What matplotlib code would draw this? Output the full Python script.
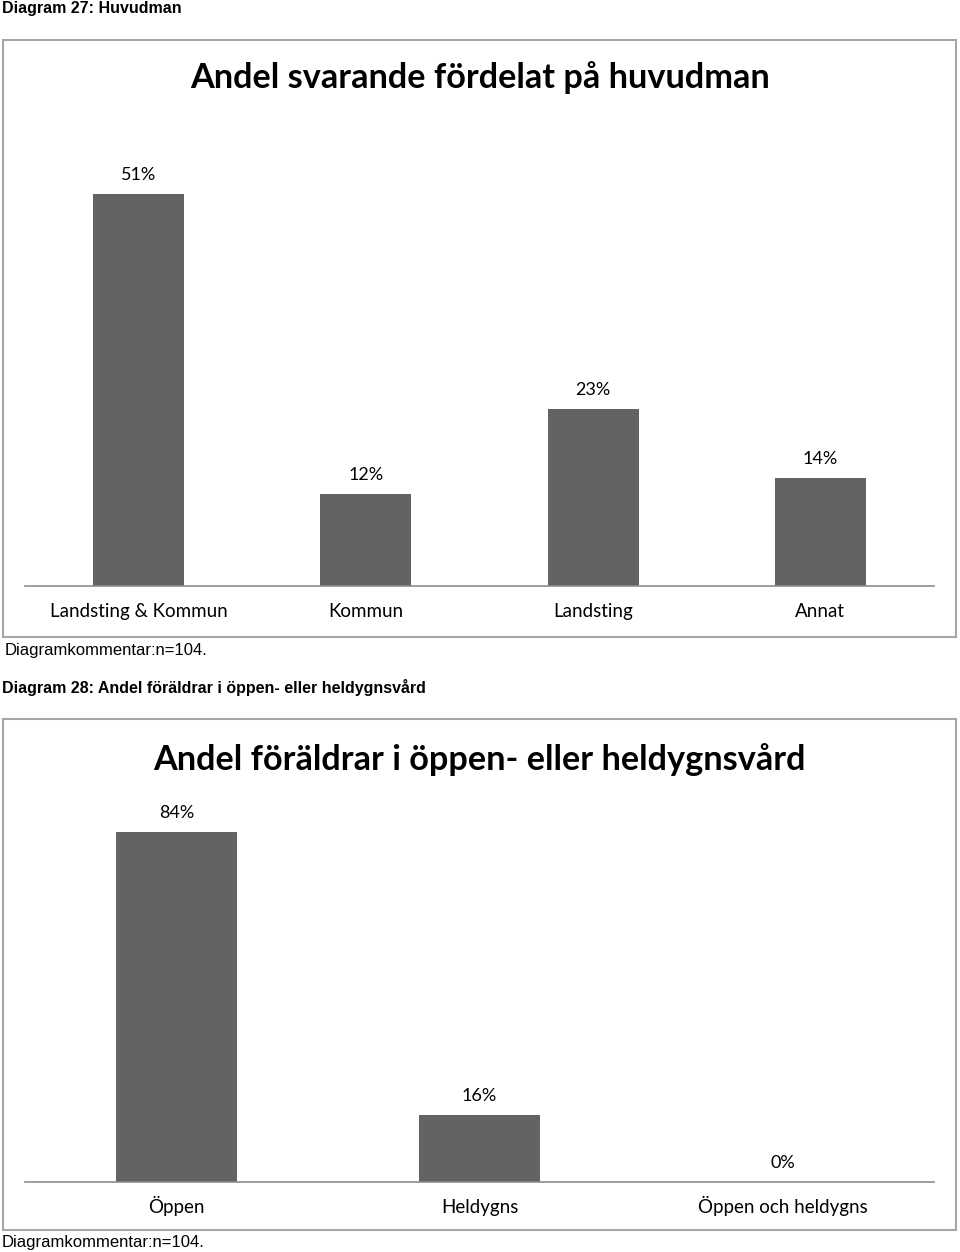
import matplotlib
matplotlib.use("Agg")
import matplotlib.pyplot as plt
from matplotlib.patches import Rectangle
from matplotlib.transforms import blended_transform_factory

# data
cats1 = ["Landsting & Kommun", "Kommun", "Landsting", "Annat"]
vals1 = [51, 12, 23, 14]
cats2 = ["Öppen", "Heldygns", "Öppen och heldygns"]
vals2 = [84, 16, 0]

W, H = 960, 1252
BAR = "#636363"
FRAME = "#a6a6a6"
TFONT = "Lato"
CFONT = "Liberation Sans"

fig = plt.figure(figsize=(W / 100, H / 100), dpi=100)


def box(x0, y0, x1, y1):
    # pixel coords from top-left -> figure fraction
    return [x0 / W, 1 - y1 / H, (x1 - x0) / W, (y1 - y0) / H]


def frame(x0, y0, x1, y1):
    r = Rectangle((x0 / W, 1 - y1 / H), (x1 - x0) / W, (y1 - y0) / H,
                  transform=fig.transFigure, fill=False, ec=FRAME, lw=1.5)
    fig.patches.append(r)


def bars(ax, cats, vals, ymax, label_y):
    x = range(len(cats))
    ax.bar(x, vals, width=0.4, color=BAR)
    ax.set_xlim(-0.5, len(cats) - 0.5)
    ax.set_ylim(0, ymax)
    for xi, v in zip(x, vals):
        ax.annotate(f"{v}%", (xi, v), xytext=(0, 8), textcoords="offset points",
                    ha="center", va="bottom", fontsize=13, family=TFONT)
    # category labels on a common baseline
    tr = blended_transform_factory(ax.transData, fig.transFigure)
    for xi, c in zip(x, cats):
        ax.text(xi, 1 - label_y / H, c, transform=tr, ha="center", va="baseline",
                fontsize=13.5, family=TFONT)
    ax.set_xticks([])
    ax.set_yticks([])
    for s in ["left", "right", "top"]:
        ax.spines[s].set_visible(False)
    ax.spines["bottom"].set_color("#8c8c8c")
    ax.spines["bottom"].set_linewidth(1.2)
    ax.patch.set_visible(False)


# --- Diagram 27
fig.text(2 / W, 1 - 8 / H, "Diagram 27: Huvudman", fontsize=11.5, fontweight="bold",
         family=CFONT, va="center", ha="left")
frame(3, 40, 956, 637)
fig.text(480 / W, 1 - 78 / H, "Andel svarande fördelat på huvudman", fontsize=24.7,
         fontweight="bold", family=TFONT, ha="center", va="center")
ax1 = fig.add_axes(box(25, 125, 934, 586))
bars(ax1, cats1, vals1, 60, 617)
fig.text(5 / W, 1 - 650 / H, "Diagramkommentar:n=104.", fontsize=12,
         family=CFONT, va="center", ha="left")

# --- Diagram 28
fig.text(2 / W, 1 - 688 / H, "Diagram 28: Andel föräldrar i öppen- eller heldygnsvård",
         fontsize=11.5, fontweight="bold", family=CFONT, va="center", ha="left")
frame(3, 719, 956, 1230)
fig.text(479 / W, 1 - 760 / H, "Andel föräldrar i öppen- eller heldygnsvård", fontsize=24.7,
         fontweight="bold", family=TFONT, ha="center", va="center")
ax2 = fig.add_axes(box(25, 765, 934, 1182))
bars(ax2, cats2, vals2, 100, 1213)
fig.text(2 / W, 1 - 1243 / H, "Diagramkommentar:n=104.", fontsize=12,
         family=CFONT, va="center", ha="left")

fig.savefig("out.png", dpi=100)
